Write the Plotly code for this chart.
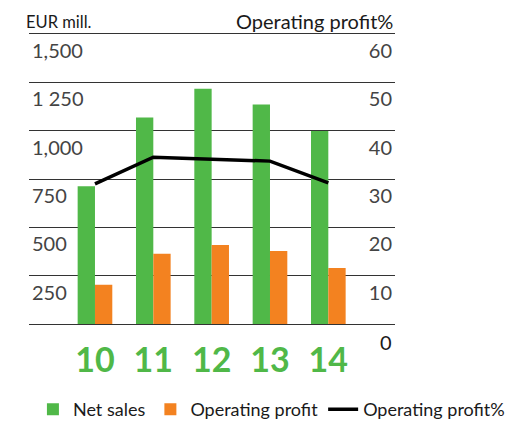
import plotly.graph_objects as go

years = ["10", "11", "12", "13", "14"]
net_sales = [713, 1068, 1217, 1135, 998]
operating_profit = [203, 363, 409, 378, 290]
operating_profit_pct = [29.0, 34.5, 34.1, 33.7, 29.2]

left_tickvals = [250, 500, 750, 1000, 1250, 1500]
left_ticktext = ["250", "500", "750", "1,000", "1 250", "1,500"]
right_tickvals = [10, 20, 30, 40, 50, 60]
right_ticktext = ["10", "20", "30", "40", "50", "60"]
right_zero_label = "0"

GREEN = "#50b848"
ORANGE = "#f38220"
LINE = "#333333"
FONT = "Lato"
TXT = "#1a1a1a"

fig = go.Figure()
fig.add_trace(go.Bar(x=years, y=net_sales, name="Net sales", marker_color=GREEN,
                     marker_line_width=0))
fig.add_trace(go.Bar(x=years, y=operating_profit, name="Operating profit",
                     marker_color=ORANGE, marker_line_width=0))
fig.add_trace(go.Scatter(x=years, y=operating_profit_pct, name="Operating profit%",
                         yaxis="y2", mode="lines",
                         line=dict(color="black", width=3.5)))

# the page body has an 8px margin, so the figure is drawn 8px in from the corner
fig.update_layout(
    width=510, height=416,
    margin=dict(l=21, r=123, t=25.5, b=99.7, autoexpand=False),
    paper_bgcolor="white", plot_bgcolor="white",
    barmode="group", bargap=0.406, bargroupgap=0,
    font=dict(family=FONT, color=TXT, size=20),
    xaxis=dict(type="category", range=[-1.131, 5.143], showgrid=False,
               zeroline=False, showline=True, mirror=True, linecolor=LINE,
               linewidth=1, ticks="", automargin=False,
               tickfont=dict(family=FONT, size=34, color=GREEN, weight="bold"),
               ticklabelstandoff=6),
    yaxis=dict(range=[0, 1500], tickvals=left_tickvals, ticktext=left_ticktext,
               showgrid=True, gridcolor=LINE, gridwidth=1, zeroline=False,
               ticks="", ticklabelposition="inside", ticklabelshift=17,
               ticklabelstandoff=0, tickfont=dict(size=20), automargin=False),
    yaxis2=dict(range=[0, 60], tickvals=right_tickvals, ticktext=right_ticktext,
                overlaying="y", side="right", showgrid=False, zeroline=False,
                ticks="", ticklabelposition="inside", ticklabelshift=17,
                ticklabelstandoff=0, tickfont=dict(size=20), automargin=False),
    legend=dict(orientation="h", x=1.314, xanchor="right", y=-0.295, yanchor="middle",
                font=dict(size=18), traceorder="normal",
                itemwidth=30, tracegroupgap=0),
    showlegend=True,
)

fig.add_annotation(text=right_zero_label, xref="paper", yref="y2", x=1.0, y=0,
                   xanchor="right", yanchor="top", xshift=-1, yshift=-4,
                   showarrow=False, font=dict(size=20))
fig.add_annotation(text="EUR mill.", xref="paper", yref="paper", x=0, y=1.0,
                   xanchor="left", yanchor="middle", xshift=-4, yshift=12.5,
                   borderpad=0, showarrow=False, font=dict(size=16.5))
fig.add_annotation(text="Operating profit%", xref="paper", yref="paper", x=1.0, y=1.0,
                   xanchor="right", yanchor="middle", xshift=-1, yshift=13.5,
                   borderpad=0, showarrow=False, font=dict(size=20))

fig.write_html("out.html")
